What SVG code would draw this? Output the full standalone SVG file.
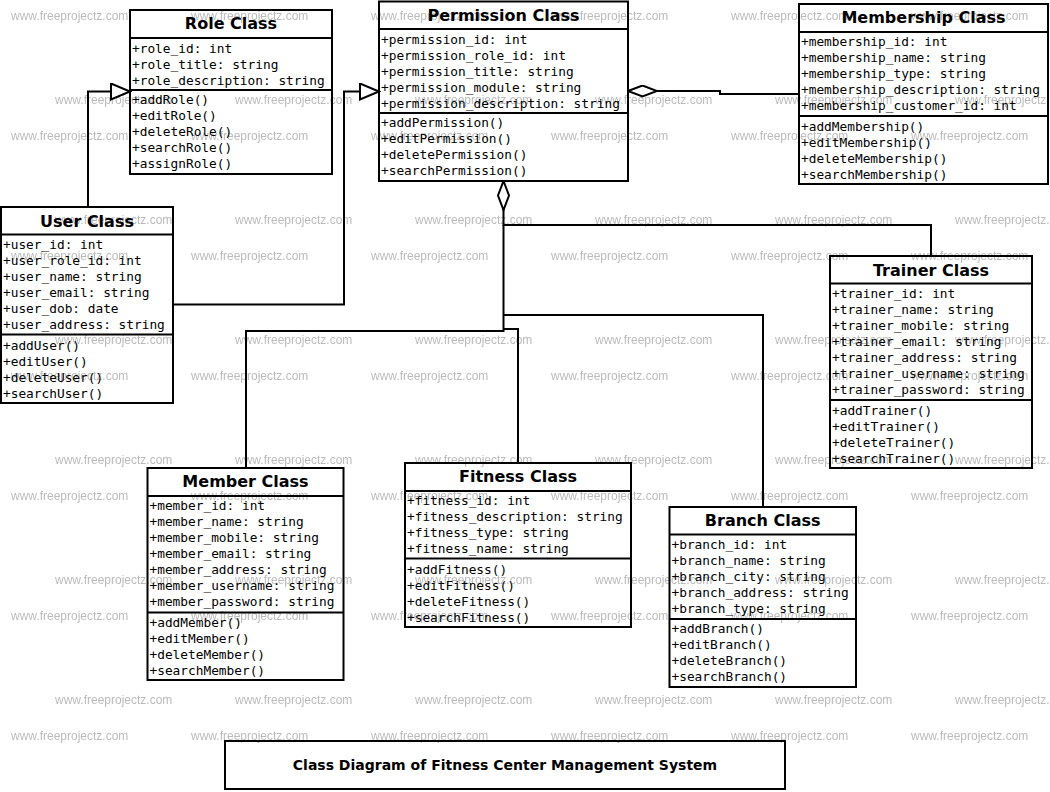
<svg xmlns="http://www.w3.org/2000/svg" width="1050" height="792" viewBox="0 0 1050 792">
<style>
.box{fill:none;stroke:#000;stroke-width:2}
.sep{stroke:#000;stroke-width:2}
.ttl{font-family:"DejaVu Sans","Liberation Sans",sans-serif;font-weight:bold;font-size:16px;text-anchor:middle;fill:#000}
.mem{font-family:"DejaVu Sans Mono","Liberation Mono",monospace;font-size:12.8px;fill:#000}
.cap{font-family:"DejaVu Sans","Liberation Sans",sans-serif;font-weight:bold;font-size:14px;text-anchor:middle;fill:#000}
.wm{font-family:"Liberation Sans",Arial,sans-serif;font-size:12px;fill:#bbb}
.edge{fill:none;stroke:#000;stroke-width:2}
</style>
<defs>
<pattern id="wmp" patternUnits="userSpaceOnUse" x="0" y="0" width="180" height="120">
<text class="wm" x="11" y="19.5">www.freeprojectz.com</text>
<text class="wm" x="55" y="103.5">www.freeprojectz.com</text>
</pattern>
<marker id="gen" markerUnits="userSpaceOnUse" markerWidth="22" markerHeight="20" refX="19" refY="8" orient="auto" viewBox="-1 -1 22 20">
<path d="M0,0 L19,8 L0,16 Z" fill="#fff" stroke="#000" stroke-width="2"/>
</marker>
<marker id="agg" markerUnits="userSpaceOnUse" markerWidth="32" markerHeight="14" refX="0" refY="5.5" orient="auto" viewBox="-1 -1 32 14">
<path d="M0,5.5 L14.5,0 L29,5.5 L14.5,11 Z" fill="#fff" stroke="#000" stroke-width="2"/>
</marker>
</defs>
<rect width="1050" height="792" fill="#fff"/>
<rect width="1050" height="792" fill="url(#wmp)"/>

<g id="connectors">
<path class="edge" d="M88,207 V91.5 H130" marker-end="url(#gen)"/>
<path class="edge" d="M173,304.5 H344 V91.5 H379" marker-end="url(#gen)"/>
<path class="edge" d="M628,91 H720 V94 H799" marker-start="url(#agg)"/>
<path class="edge" d="M503.5,181 V225 H931 V256" marker-start="url(#agg)"/>
<path class="edge" d="M503.5,225 V331 H246 V468"/>
<path class="edge" d="M503.5,329 H518 V463"/>
<path class="edge" d="M503.5,315 H763 V507"/>
</g>

<g id="role-class">
<rect class="box" x="130" y="10" width="202" height="164"/>
<line class="sep" x1="130" y1="38" x2="332" y2="38"/>
<line class="sep" x1="130" y1="90" x2="332" y2="90"/>
<text class="ttl" x="231" y="29">Role Class</text>
<text class="mem" x="132" y="52.5">+role_id: int</text>
<text class="mem" x="132" y="68.5">+role_title: string</text>
<text class="mem" x="132" y="84.5">+role_description: string</text>
<text class="mem" x="132" y="103.5">+addRole()</text>
<text class="mem" x="132" y="119.5">+editRole()</text>
<text class="mem" x="132" y="135.5">+deleteRole()</text>
<text class="mem" x="132" y="151.5">+searchRole()</text>
<text class="mem" x="132" y="167.5">+assignRole()</text>
</g>

<g id="permission-class">
<rect class="box" x="379" y="1.5" width="249" height="179.5"/>
<line class="sep" x1="379" y1="29" x2="628" y2="29"/>
<line class="sep" x1="379" y1="113" x2="628" y2="113"/>
<text class="ttl" x="503.5" y="20.5">Permission Class</text>
<text class="mem" x="381" y="43.5">+permission_id: int</text>
<text class="mem" x="381" y="59.5">+permission_role_id: int</text>
<text class="mem" x="381" y="75.5">+permission_title: string</text>
<text class="mem" x="381" y="91.5">+permission_module: string</text>
<text class="mem" x="381" y="107.5">+permission_description: string</text>
<text class="mem" x="381" y="127">+addPermission()</text>
<text class="mem" x="381" y="143">+editPermission()</text>
<text class="mem" x="381" y="159">+deletePermission()</text>
<text class="mem" x="381" y="175">+searchPermission()</text>
</g>

<g id="membership-class">
<rect class="box" x="799" y="4" width="249" height="180"/>
<line class="sep" x1="799" y1="32" x2="1048" y2="32"/>
<line class="sep" x1="799" y1="116" x2="1048" y2="116"/>
<text class="ttl" x="923.5" y="22.5">Membership Class</text>
<text class="mem" x="801" y="46">+membership_id: int</text>
<text class="mem" x="801" y="62">+membership_name: string</text>
<text class="mem" x="801" y="78">+membership_type: string</text>
<text class="mem" x="801" y="94">+membership_description: string</text>
<text class="mem" x="801" y="110">+membership_customer_id: int</text>
<text class="mem" x="801" y="130.5">+addMembership()</text>
<text class="mem" x="801" y="146.5">+editMembership()</text>
<text class="mem" x="801" y="162.5">+deleteMembership()</text>
<text class="mem" x="801" y="178.5">+searchMembership()</text>
</g>

<g id="user-class">
<rect class="box" x="1" y="207" width="172" height="196"/>
<line class="sep" x1="1" y1="234.5" x2="173" y2="234.5"/>
<line class="sep" x1="1" y1="334.5" x2="173" y2="334.5"/>
<text class="ttl" x="87" y="226.5">User Class</text>
<text class="mem" x="3" y="249">+user_id: int</text>
<text class="mem" x="3" y="265">+user_role_id: int</text>
<text class="mem" x="3" y="281">+user_name: string</text>
<text class="mem" x="3" y="297">+user_email: string</text>
<text class="mem" x="3" y="313">+user_dob: date</text>
<text class="mem" x="3" y="329">+user_address: string</text>
<text class="mem" x="3" y="349.5">+addUser()</text>
<text class="mem" x="3" y="365.5">+editUser()</text>
<text class="mem" x="3" y="381.5">+deleteUser()</text>
<text class="mem" x="3" y="397.5">+searchUser()</text>
</g>

<g id="trainer-class">
<rect class="box" x="830" y="256" width="202" height="212"/>
<line class="sep" x1="830" y1="283.5" x2="1032" y2="283.5"/>
<line class="sep" x1="830" y1="400" x2="1032" y2="400"/>
<text class="ttl" x="931" y="276">Trainer Class</text>
<text class="mem" x="832" y="298">+trainer_id: int</text>
<text class="mem" x="832" y="314">+trainer_name: string</text>
<text class="mem" x="832" y="330">+trainer_mobile: string</text>
<text class="mem" x="832" y="346">+trainer_email: string</text>
<text class="mem" x="832" y="362">+trainer_address: string</text>
<text class="mem" x="832" y="378">+trainer_username: string</text>
<text class="mem" x="832" y="394">+trainer_password: string</text>
<text class="mem" x="832" y="414.5">+addTrainer()</text>
<text class="mem" x="832" y="430.5">+editTrainer()</text>
<text class="mem" x="832" y="446.5">+deleteTrainer()</text>
<text class="mem" x="832" y="462.5">+searchTrainer()</text>
</g>

<g id="member-class">
<rect class="box" x="147.5" y="468" width="196" height="212"/>
<line class="sep" x1="147.5" y1="496" x2="343.5" y2="496"/>
<line class="sep" x1="147.5" y1="612.5" x2="343.5" y2="612.5"/>
<text class="ttl" x="245.5" y="487">Member Class</text>
<text class="mem" x="149.5" y="510">+member_id: int</text>
<text class="mem" x="149.5" y="526">+member_name: string</text>
<text class="mem" x="149.5" y="542">+member_mobile: string</text>
<text class="mem" x="149.5" y="558">+member_email: string</text>
<text class="mem" x="149.5" y="574">+member_address: string</text>
<text class="mem" x="149.5" y="590">+member_username: string</text>
<text class="mem" x="149.5" y="606">+member_password: string</text>
<text class="mem" x="149.5" y="626.5">+addMember()</text>
<text class="mem" x="149.5" y="642.5">+editMember()</text>
<text class="mem" x="149.5" y="658.5">+deleteMember()</text>
<text class="mem" x="149.5" y="674.5">+searchMember()</text>
</g>

<g id="fitness-class">
<rect class="box" x="405" y="463" width="226" height="164"/>
<line class="sep" x1="405" y1="491" x2="631" y2="491"/>
<line class="sep" x1="405" y1="558.5" x2="631" y2="558.5"/>
<text class="ttl" x="518" y="482">Fitness Class</text>
<text class="mem" x="407" y="505">+fitness_id: int</text>
<text class="mem" x="407" y="521">+fitness_description: string</text>
<text class="mem" x="407" y="537">+fitness_type: string</text>
<text class="mem" x="407" y="553">+fitness_name: string</text>
<text class="mem" x="407" y="573.5">+addFitness()</text>
<text class="mem" x="407" y="589.5">+editFitness()</text>
<text class="mem" x="407" y="605.5">+deleteFitness()</text>
<text class="mem" x="407" y="621.5">+searchFitness()</text>
</g>

<g id="branch-class">
<rect class="box" x="669.5" y="507" width="186.5" height="180"/>
<line class="sep" x1="669.5" y1="534.5" x2="856" y2="534.5"/>
<line class="sep" x1="669.5" y1="619" x2="856" y2="619"/>
<text class="ttl" x="762.75" y="526">Branch Class</text>
<text class="mem" x="671.5" y="549">+branch_id: int</text>
<text class="mem" x="671.5" y="565">+branch_name: string</text>
<text class="mem" x="671.5" y="581">+branch_city: string</text>
<text class="mem" x="671.5" y="597">+branch_address: string</text>
<text class="mem" x="671.5" y="613">+branch_type: string</text>
<text class="mem" x="671.5" y="633">+addBranch()</text>
<text class="mem" x="671.5" y="649">+editBranch()</text>
<text class="mem" x="671.5" y="665">+deleteBranch()</text>
<text class="mem" x="671.5" y="681">+searchBranch()</text>
</g>

<g id="caption">
<rect class="box" x="225" y="741" width="560" height="48"/>
<text class="cap" x="505" y="770">Class Diagram of Fitness Center Management System</text>
</g>
</svg>
